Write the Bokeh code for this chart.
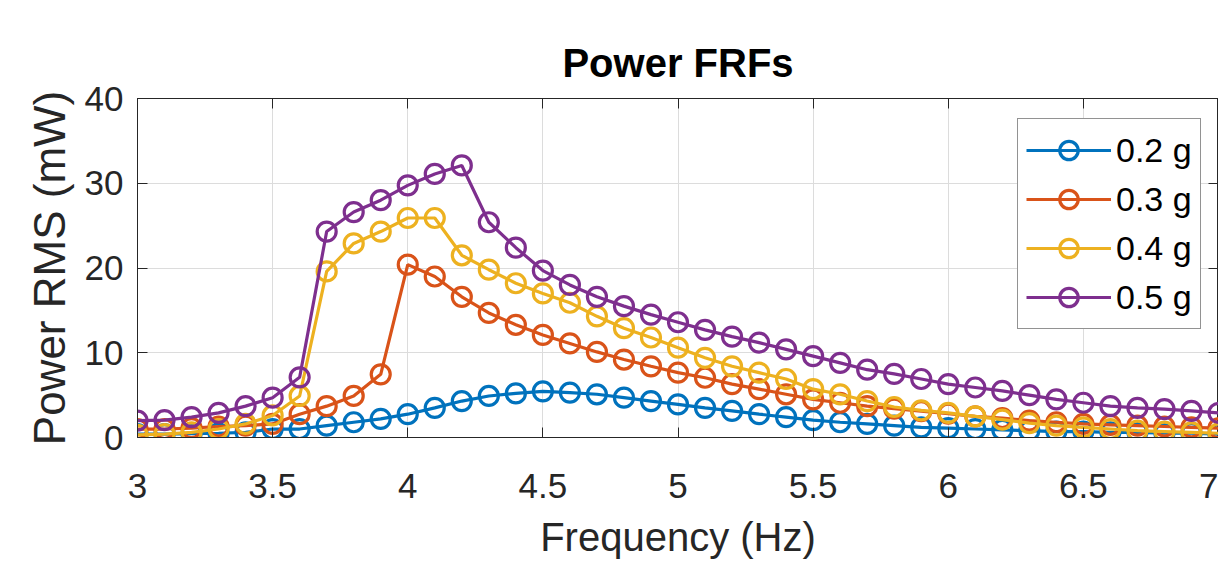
from bokeh.plotting import figure
from bokeh.models import ColumnDataSource, LinearAxis, Legend, LegendItem, FixedTicker
from bokeh.embed import file_html
from bokeh.resources import INLINE

freq = [round(3.0 + 0.1 * i, 1) for i in range(41)]

p02 = [0.4, 0.4, 0.45, 0.5, 0.6, 1.0, 1.0, 1.4, 1.8, 2.2,
       2.75, 3.5, 4.3, 4.9, 5.2, 5.45, 5.3, 5.1, 4.7, 4.3,
       3.9, 3.5, 3.15, 2.75, 2.4, 2.05, 1.8, 1.6, 1.4, 1.2,
       1.1, 1.0, 0.9, 0.8, 0.7, 0.7, 0.6, 0.6, 0.5, 0.5, 0.4]
p03 = [1.0, 1.0, 1.1, 1.3, 1.4, 1.6, 2.75, 3.7, 4.9, 7.45,
       20.4, 19.0, 16.6, 14.7, 13.3, 12.1, 11.1, 10.1, 9.2, 8.4,
       7.65, 7.05, 6.3, 5.7, 5.1, 4.5, 4.1, 3.7, 3.4, 3.1,
       2.8, 2.5, 2.3, 2.0, 1.8, 1.6, 1.5, 1.4, 1.3, 1.2, 1.1]
p04 = [0.3, 0.4, 0.6, 1.0, 1.6, 2.6, 4.9, 19.6, 22.9, 24.3,
       25.9, 25.9, 21.5, 19.8, 18.2, 17.0, 15.9, 14.3, 12.9, 11.8,
       10.6, 9.4, 8.4, 7.65, 6.9, 5.7, 5.1, 4.3, 3.6, 3.2,
       2.9, 2.5, 2.1, 1.7, 1.4, 1.2, 1.0, 0.8, 0.7, 0.6, 0.5]
p05 = [2.0, 2.05, 2.4, 2.9, 3.7, 4.7, 7.1, 24.3, 26.6, 28.0,
       29.75, 31.1, 32.1, 25.4, 22.4, 19.7, 18.0, 16.6, 15.5, 14.5,
       13.6, 12.7, 11.9, 11.2, 10.4, 9.6, 8.8, 8.0, 7.5, 6.9,
       6.3, 5.9, 5.5, 5.0, 4.5, 4.1, 3.7, 3.5, 3.35, 3.15, 2.9]

labels = ["0.2 g", "0.3 g", "0.4 g", "0.5 g"]
series = [p02, p03, p04, p05]
colors = ["#0072BD", "#D95319", "#EDB120", "#7E2F8E"]

x_ticks = [3, 3.5, 4, 4.5, 5, 5.5, 6, 6.5, 7]
x_tick_labels = ["3", "3.5", "4", "4.5", "5", "5.5", "6", "6.5", "7"]
y_ticks = [0, 10, 20, 30, 40]

FONT = "Liberation Sans"
AX = "#262626"

p = figure(width=1218, height=561, output_backend="svg", toolbar_location=None,
           x_range=(3, 7), y_range=(0, 40),
           min_border_left=137, min_border_right=0, min_border_top=98, min_border_bottom=123,
           title="Power FRFs")
p.title.text_font = FONT
p.title.text_font_size = "40px"
p.title.text_font_style = "bold"
p.title.align = "center"
p.title.text_color = "#000000"
p.title.standoff = 28

p.background_fill_color = "white"
p.border_fill_color = "white"
p.outline_line_color = AX
p.outline_line_width = 1

p.xaxis.ticker = FixedTicker(ticks=x_ticks)
p.yaxis.ticker = FixedTicker(ticks=y_ticks)
p.xaxis.major_label_overrides = {t: l for t, l in zip(x_ticks, x_tick_labels)}
p.xaxis.axis_label = "Frequency (Hz)"
p.yaxis.axis_label = "Power RMS (mW)"

for ax in [p.xaxis[0], p.yaxis[0]]:
    ax.axis_line_color = AX
    ax.major_tick_line_color = AX
    ax.major_tick_in = 10
    ax.major_tick_out = 0
    ax.minor_tick_line_color = None
    ax.major_label_text_font = FONT
    ax.major_label_text_font_size = "35px"
    ax.major_label_text_color = AX
    ax.axis_label_text_font = FONT
    ax.axis_label_text_font_style = "normal"
    ax.axis_label_text_color = AX
p.xaxis.axis_label_text_font_size = "40px"
p.yaxis.axis_label_text_font_size = "44px"
p.xaxis.major_label_standoff = 36
p.xaxis.axis_label_standoff = 14
p.yaxis.major_label_standoff = 14
p.yaxis.axis_label_standoff = 8

for loc, ticks in [("above", x_ticks), ("right", y_ticks)]:
    a = LinearAxis(ticker=FixedTicker(ticks=ticks))
    a.axis_line_color = AX
    a.major_tick_line_color = AX
    a.major_tick_in = 10
    a.major_tick_out = 0
    a.minor_tick_line_color = None
    a.major_label_overrides = {t: "" for t in ticks}
    a.major_label_standoff = 0
    p.add_layout(a, loc)

p.grid.grid_line_color = "#dcdcdc"
p.grid.grid_line_width = 1
p.xgrid.ticker = FixedTicker(ticks=x_ticks)
p.ygrid.ticker = FixedTicker(ticks=y_ticks)

items = []
for lab, vals, col in zip(labels, series, colors):
    src = ColumnDataSource(dict(x=freq, y=vals))
    r1 = p.line("x", "y", source=src, line_color=col, line_width=3.2)
    r2 = p.scatter("x", "y", source=src, marker="circle", size=19,
                   fill_color=None, line_color=col, line_width=3.2)
    items.append(LegendItem(label=lab, renderers=[r1, r2]))

legend = Legend(items=items, location=(880, 108))
legend.label_text_font = FONT
legend.label_text_font_size = "34px"
legend.label_text_color = "#000000"
legend.glyph_width = 85
legend.glyph_height = 46
legend.label_height = 46
legend.label_standoff = 5
legend.spacing = 3
legend.padding = 8
legend.margin = 0
legend.border_line_color = AX
legend.border_line_width = 1
legend.background_fill_color = "white"
legend.background_fill_alpha = 1
p.add_layout(legend, "center")

open("out.html", "w").write(file_html(p, INLINE))
